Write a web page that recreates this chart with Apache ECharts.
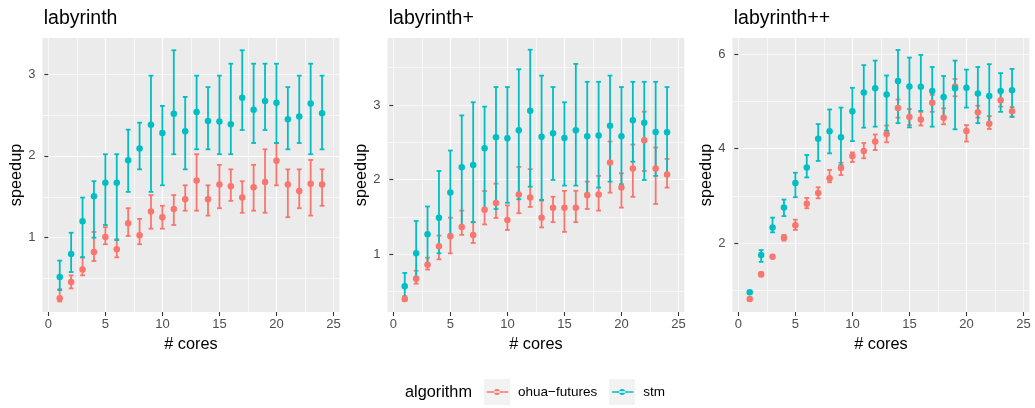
<!DOCTYPE html>
<html>
<head>
<meta charset="utf-8">
<script src="https://cdn.jsdelivr.net/npm/echarts@6/dist/echarts.min.js"></script>
<style>
html,body{margin:0;padding:0;background:#fff;}
#chart{width:1035px;height:408px;}
</style>
</head>
<body>
<div id="chart"></div>
<script>
// ---------- data ----------
const cores = [1,2,3,4,5,6,7,8,9,10,11,12,13,14,15,16,17,18,19,20,21,22,23,24];
const xTicks = [0,5,10,15,20,25];
const panelTitles = ['labyrinth','labyrinth+','labyrinth++'];
const yTicksLab = [1,2,3];
const yTicksLabP = [1,2,3];
const yTicksLabPP = [2,4,6];
const seriesNames = ['ohua\u2212futures','stm'];

// labyrinth
const labOhuaMean = [0.26,0.46,0.61,0.825,1.008,0.86,1.175,1.03,1.32,1.25,1.35,1.47,1.70,1.47,1.65,1.63,1.49,1.615,1.68,1.94,1.65,1.57,1.66,1.65];
const labOhuaLo   = [0.22,0.38,0.54,0.715,0.92,0.76,1.02,0.92,1.11,1.11,1.155,1.33,1.33,1.27,1.36,1.45,1.305,1.33,1.305,1.64,1.25,1.36,1.27,1.39];
const labOhuaHi   = [0.37,0.54,0.76,1.07,1.13,0.98,1.36,1.23,1.52,1.39,1.52,1.64,2.02,1.64,1.89,1.835,1.69,1.89,2.08,2.157,1.835,1.835,1.95,1.835];
const labStmMean  = [0.52,0.80,1.20,1.505,1.67,1.67,1.945,2.09,2.38,2.28,2.515,2.30,2.536,2.425,2.42,2.385,2.71,2.564,2.67,2.65,2.446,2.48,2.64,2.52];
const labStmLo    = [0.36,0.58,0.76,1.0,1.155,0.97,1.56,1.835,1.56,1.64,2.02,1.835,2.08,2.08,2.02,2.02,2.316,2.157,2.316,2.157,2.08,2.157,2.02,2.08];
const labStmHi    = [0.72,1.06,1.49,1.69,2.02,2.02,2.32,2.405,2.98,2.61,3.29,2.72,2.98,2.84,2.98,3.126,3.29,3.126,3.126,3.126,2.84,2.98,3.126,2.98];

// labyrinth+
const labPOhuaMean = [0.40,0.674,0.86,1.107,1.241,1.366,1.26,1.598,1.6875,1.46,1.80,1.76,1.49,1.625,1.625,1.625,1.79,1.80,2.23,1.893,2.15,2.527,2.15,2.07];
const labPOhuaLo   = [0.375,0.607,0.795,0.933,1.013,1.26,1.152,1.40,1.487,1.326,1.55,1.634,1.36,1.43,1.30,1.43,1.607,1.585,1.826,1.625,1.77,2.116,1.674,1.893];
const labPOhuaHi   = [0.44,0.78,0.955,1.25,1.49,1.585,1.43,1.848,1.946,1.656,2.17,2.14,1.72,1.77,1.85,1.85,1.973,2.05,2.51,2.085,2.47,2.91,2.43,2.277];
const labPStmMean  = [0.571,1.013,1.268,1.49,1.826,2.165,2.196,2.42,2.567,2.554,2.66,2.924,2.576,2.62,2.558,2.66,2.58,2.59,2.72,2.58,2.795,2.763,2.638,2.634];
const labPStmLo    = [0.43,0.70,0.857,1.013,1.268,1.35,1.43,1.607,1.607,1.69,1.737,1.906,1.728,1.996,1.92,1.92,1.817,1.893,1.973,1.9375,2.24,1.996,2.05,2.06];
const labPStmHi    = [0.75,1.446,1.64,2.116,2.39,2.86,3.036,2.978,3.24,3.24,3.478,3.74,3.393,3.24,3.036,3.55,3.31,3.31,3.393,3.24,3.31,3.31,3.31,3.24];

// labyrinth++
const labPPOhuaMean = [0.81,1.336,1.71,2.11,2.375,2.834,3.06,3.37,3.59,3.845,3.95,4.15,4.31,4.86,4.67,4.615,4.97,4.657,5.315,4.375,4.77,4.53,5.025,4.79];
const labPPOhuaLo   = [0.78,1.29,1.68,2.05,2.276,2.735,2.947,3.286,3.44,3.717,3.795,3.97,4.134,4.657,4.50,4.49,4.78,4.516,5.11,4.15,4.657,4.417,4.89,4.67];
const labPPOhuaHi   = [0.84,1.38,1.74,2.17,2.495,2.954,3.18,3.548,3.70,3.92,4.12,4.30,4.49,5.04,4.84,4.78,5.14,4.855,5.477,4.50,4.91,4.69,5.21,4.88];
const labPPStmMean  = [0.954,1.746,2.33,2.75,3.27,3.60,4.21,4.37,4.24,4.79,5.19,5.28,5.145,5.435,5.315,5.31,5.22,5.095,5.28,5.293,5.17,5.117,5.22,5.24];
const labPPStmLo    = [0.93,1.60,2.226,2.57,2.97,3.39,3.74,3.90,3.65,4.16,4.445,4.466,4.38,4.54,4.45,4.80,4.466,4.64,4.41,4.87,4.54,4.50,4.78,4.68];
const labPPStmHi    = [0.98,1.85,2.537,2.92,3.49,3.866,4.52,4.83,4.87,5.29,5.77,5.866,5.55,6.09,5.93,5.986,5.73,5.54,5.866,5.675,5.73,5.79,5.60,5.69];

// ---------- layout / style ----------
const FONT = '"Liberation Sans", Arial, Helvetica, sans-serif';
const COLORS = ['#F8766D', '#00BFC4'];
const gridLefts = [42.4, 387.4, 732.4];
const GRID_TOP = 38, GRID_W = 297, GRID_H = 274;
const X_MIN = -0.52, X_MAX = 25.52;
const yRanges = [[0.092, 3.44], [0.227, 3.897], [0.537, 6.345]];
const yThinSplit = [7, 7, 6];

const panels = [
  { title: panelTitles[0], yTicks: yTicksLab,
    ohua: [labOhuaMean, labOhuaLo, labOhuaHi], stm: [labStmMean, labStmLo, labStmHi] },
  { title: panelTitles[1], yTicks: yTicksLabP,
    ohua: [labPOhuaMean, labPOhuaLo, labPOhuaHi], stm: [labPStmMean, labPStmLo, labPStmHi] },
  { title: panelTitles[2], yTicks: yTicksLabPP,
    ohua: [labPPOhuaMean, labPPOhuaLo, labPPOhuaHi], stm: [labPPStmMean, labPPStmLo, labPPStmHi] }
];

function errRender(params, api) {
  const x = api.value(0), lo = api.value(1), hi = api.value(2);
  const pLo = api.coord([x, lo]), pHi = api.coord([x, hi]);
  const hw = api.size([0.42, 0])[0] / 2;
  const style = { stroke: api.visual('color'), lineWidth: 1.8, fill: null };
  return { type: 'group', children: [
    { type: 'line', shape: { x1: pLo[0], y1: pLo[1], x2: pHi[0], y2: pHi[1] }, style: style },
    { type: 'line', shape: { x1: pHi[0] - hw, y1: pHi[1], x2: pHi[0] + hw, y2: pHi[1] }, style: style },
    { type: 'line', shape: { x1: pLo[0] - hw, y1: pLo[1], x2: pLo[0] + hw, y2: pLo[1] }, style: style }
  ]};
}

const grids = [], xAxes = [], yAxes = [], series = [], titles = [];
panels.forEach((p, i) => {
  grids.push({ left: gridLefts[i], top: GRID_TOP, width: GRID_W, height: GRID_H,
    show: true, backgroundColor: '#EBEBEB', borderWidth: 0, containLabel: false, outerBoundsMode: 'none' });
  titles.push({ text: p.title, left: gridLefts[i] + 1.3, top: 9, padding: 0,
    textStyle: { fontFamily: FONT, fontSize: 19.5, fontWeight: 'normal', color: '#000' } });
  // main x axis
  xAxes.push({ type: 'value', gridIndex: i, min: X_MIN, max: X_MAX, splitNumber: 5,
    name: '# cores', nameLocation: 'middle', nameGap: 25,
    nameTextStyle: { fontFamily: FONT, fontSize: 16.3, color: '#000' },
    axisLine: { show: false },
    axisTick: { show: true, length: 4, customValues: xTicks, lineStyle: { color: '#333333', width: 1.1 } },
    axisLabel: { show: true, customValues: xTicks, margin: 6, color: '#4D4D4D', fontFamily: FONT, fontSize: 13,
      formatter: v => (xTicks.indexOf(v) >= 0 ? String(v) : '') },
    splitLine: { show: true, showMinLine: false, showMaxLine: false, lineStyle: { color: '#FFFFFF', width: 1.2 } } });
  // thin x grid axis (units of 2.5)
  xAxes.push({ type: 'value', gridIndex: i, min: X_MIN / 2.5, max: X_MAX / 2.5, splitNumber: 10,
    axisLine: { show: false }, axisTick: { show: false }, axisLabel: { show: false },
    splitLine: { show: true, showMinLine: false, showMaxLine: false, lineStyle: { color: '#FFFFFF', width: 0.6 } } });
  const yr = yRanges[i];
  yAxes.push({ type: 'value', gridIndex: i, min: yr[0], max: yr[1], splitNumber: 3,
    name: 'speedup', nameLocation: 'middle', nameGap: 16,
    nameTextStyle: { fontFamily: FONT, fontSize: 16.3, color: '#000' },
    axisLine: { show: false },
    axisTick: { show: true, length: 4, customValues: p.yTicks, lineStyle: { color: '#333333', width: 1.1 } },
    axisLabel: { show: true, customValues: p.yTicks, margin: 7, color: '#4D4D4D', fontFamily: FONT, fontSize: 13,
      formatter: v => (p.yTicks.indexOf(v) >= 0 ? String(v) : '') },
    splitLine: { show: true, showMinLine: false, showMaxLine: false, lineStyle: { color: '#FFFFFF', width: 1.2 } } });
  yAxes.push({ type: 'value', gridIndex: i, min: yr[0], max: yr[1], splitNumber: yThinSplit[i],
    axisLine: { show: false }, axisTick: { show: false }, axisLabel: { show: false },
    splitLine: { show: true, showMinLine: false, showMaxLine: false, lineStyle: { color: '#FFFFFF', width: 0.6 } } });

  [['ohua', 0], ['stm', 1]].forEach(([key, k]) => {
    const [mean, lo, hi] = p[key];
    series.push({ type: 'custom', name: seriesNames[k], xAxisIndex: 2 * i, yAxisIndex: 2 * i,
      itemStyle: { color: COLORS[k] }, renderItem: errRender, encode: { x: 0, y: [1, 2] },
      data: cores.map((c, j) => [c, lo[j], hi[j]]), z: 2 });
    series.push({ type: 'scatter', name: seriesNames[k], xAxisIndex: 2 * i, yAxisIndex: 2 * i,
      symbol: 'circle', symbolSize: 6.5, itemStyle: { color: COLORS[k], opacity: 1 },
      data: cores.map((c, j) => [c, mean[j]]), z: 3 });
  });
});

const ICON = 'path://M0,0 L0.01,0 L0,0.01 Z M29,26 L28.99,26 L29,25.99 Z ' +
  'M2.7,12.2 L24.3,12.2 L24.3,13.8 L2.7,13.8 Z ' +
  'M10.0,13 A3,3 0 1 0 16,13 A3,3 0 1 0 10.0,13 Z';

const option = {
  animation: false,
  backgroundColor: '#FFFFFF',
  title: titles,
  grid: grids,
  xAxis: xAxes,
  yAxis: yAxes,
  legend: {
    show: true, left: 484, top: 379, orient: 'horizontal', padding: 0,
    itemWidth: 29, itemHeight: 26, itemGap: 12, z: 10,
    data: seriesNames.map(n => ({ name: n, icon: ICON })),
    itemStyle: { borderWidth: 0 },
    lineStyle: { width: 0 },
    textStyle: { fontFamily: FONT, fontSize: 13.5, color: '#000' },
    selectedMode: false
  },
  graphic: [
    { type: 'rect', shape: { x: 484, y: 379, width: 26, height: 26 }, style: { fill: '#F2F2F2' }, z: 0 },
    { type: 'rect', shape: { x: 609, y: 379, width: 26, height: 26 }, style: { fill: '#F2F2F2' }, z: 0 },
    { type: 'text', style: { x: 405, y: 392.5, text: 'algorithm', fontFamily: FONT, fontSize: 16.3,
        fill: '#000', verticalAlign: 'middle', align: 'left' }, z: 0 }
  ],
  series: series
};

const chart = echarts.init(document.getElementById('chart'), null, { renderer: 'canvas' });
chart.setOption(option);
</script>
</body>
</html>
